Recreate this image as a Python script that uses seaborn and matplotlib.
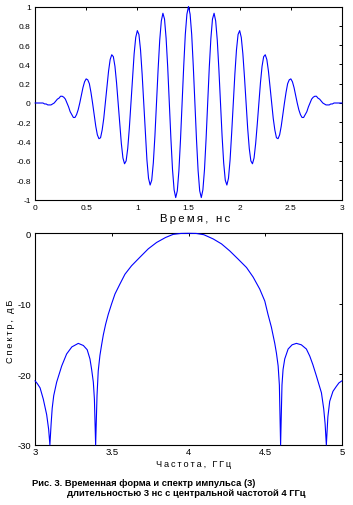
import numpy as np
import pandas as pd
import matplotlib
matplotlib.use("Agg")
import matplotlib.pyplot as plt
import seaborn as sns

# --- data --------------------------------------------------------------
# pulse waveform, sampled every 1/64 ns from 0 to 3 ns
time_ns = np.linspace(0, 3, 193)
pulse = [
    0.00, 0.00, 0.00, 0.00, 0.00, 0.00, -0.01, -0.01, -0.02, -0.02, -0.02, -0.01, 0.00, 0.02, 0.04, 0.05,
    0.07, 0.07, 0.06, 0.04, 0.00, -0.04, -0.09, -0.12, -0.15, -0.15, -0.12, -0.07, 0.00, 0.08, 0.16, 0.22,
    0.25, 0.24, 0.20, 0.11, 0.00, -0.12, -0.24, -0.33, -0.37, -0.36, -0.28, -0.16, 0.00, 0.17, 0.33, 0.45,
    0.50, 0.48, 0.38, 0.21, 0.00, -0.22, -0.42, -0.57, -0.63, -0.60, -0.47, -0.26, 0.00, 0.27, 0.51, 0.68,
    0.75, 0.71, 0.55, 0.30, 0.00, -0.31, -0.59, -0.78, -0.85, -0.80, -0.62, -0.34, 0.00, 0.35, 0.65, 0.85,
    0.93, 0.87, 0.67, 0.37, 0.00, -0.37, -0.69, -0.90, -0.98, -0.91, -0.70, -0.38, 0.00, 0.38, 0.71, 0.92,
    1.00,
    0.92, 0.71, 0.38, 0.00, -0.38, -0.70, -0.91, -0.98, -0.90, -0.69, -0.37, 0.00, 0.37, 0.67, 0.87, 0.93,
    0.85, 0.65, 0.35, 0.00, -0.34, -0.62, -0.80, -0.85, -0.78, -0.59, -0.31, 0.00, 0.30, 0.55, 0.71, 0.75,
    0.68, 0.51, 0.27, 0.00, -0.26, -0.47, -0.60, -0.63, -0.57, -0.42, -0.22, 0.00, 0.21, 0.38, 0.48, 0.50,
    0.45, 0.33, 0.17, 0.00, -0.16, -0.28, -0.36, -0.37, -0.33, -0.24, -0.12, 0.00, 0.11, 0.20, 0.24, 0.25,
    0.22, 0.16, 0.08, 0.00, -0.07, -0.12, -0.15, -0.15, -0.12, -0.09, -0.04, 0.00, 0.04, 0.06, 0.07, 0.07,
    0.05, 0.04, 0.02, 0.00, -0.01, -0.02, -0.02, -0.02, -0.01, -0.01, 0.00, 0.00, 0.00, 0.00, 0.00, 0.00,
]

# spectrum, dB (nulls are clipped at the -30 dB floor in the picture)
freq_ghz = [
    3.000, 3.015, 3.033, 3.054, 3.076, 3.089, 3.097, 3.105, 3.112, 3.122,
    3.141, 3.174, 3.206, 3.240, 3.282, 3.315, 3.340, 3.358, 3.369, 3.380,
    3.387, 3.395, 3.404, 3.412, 3.423, 3.434, 3.445, 3.460, 3.477, 3.499,
    3.521, 3.553, 3.586, 3.629, 3.683, 3.738, 3.792, 3.850, 3.900, 3.950,
    4.000, 4.050, 4.100, 4.161, 4.215, 4.269, 4.323, 4.378, 4.421, 4.464,
    4.497, 4.518, 4.540, 4.562, 4.573, 4.584, 4.592, 4.600, 4.609, 4.616,
    4.627, 4.649, 4.675, 4.703, 4.735, 4.768, 4.790, 4.810, 4.833, 4.866,
    4.881, 4.890, 4.898, 4.908, 4.920, 4.941, 4.963, 4.980, 5.000,
]
spectrum_db = [
    -20.9, -21.3, -21.9, -23.5, -25.7, -27.8, -30.0, -27.0, -24.8, -23.0,
    -21.1, -18.8, -17.1, -16.1, -15.6, -15.9, -16.5, -17.8, -19.3, -21.1,
    -23.5, -30.0, -23.0, -19.5, -17.3, -15.8, -14.4, -12.9, -11.5, -10.0,
    -8.6, -7.2, -5.8, -4.6, -3.4, -2.2, -1.3, -0.6, -0.15, -0.02,
    0.0, -0.02, -0.2, -0.8, -1.5, -2.5, -3.65, -4.85, -6.2, -7.9,
    -9.6, -11.5, -13.3, -15.6, -17.0, -18.8, -21.5, -30.0, -21.5, -19.3,
    -17.8, -16.4, -15.8, -15.6, -15.8, -16.4, -17.4, -18.6, -20.2, -22.6,
    -24.9, -27.0, -30.0, -26.0, -23.8, -22.4, -21.7, -21.2, -20.9,
]

time_ticks = [0, 0.5, 1, 1.5, 2, 2.5, 3]
time_labels = ["0", "0.5", "1", "1.5", "2", "2.5", "3"]
amp_ticks = [-1, -0.8, -0.6, -0.4, -0.2, 0, 0.2, 0.4, 0.6, 0.8, 1]
amp_labels = ["-1", "-0.8", "-0.6", "-0.4", "-0.2", "0", "0.2", "0.4", "0.6", "0.8", "1"]
freq_ticks = [3, 3.5, 4, 4.5, 5]
freq_labels = ["3", "3.5", "4", "4.5", "5"]
db_ticks = [-30, -20, -10, 0]
db_labels = ["-30", "-20", "-10", "0"]

caption_1 = "Рис. 3. Временная форма и спектр импульса (3)"
caption_2 = "длительностью 3 нс с центральной частотой 4 ГГц"


def spaced(s):
    # the old plot uses wide letter spacing in the axis titles
    return "\u2009".join(s)


sns.set_theme(style="white")
plt.rcParams["font.family"] = ["Liberation Sans", "DejaVu Sans"]
plt.rcParams["axes.unicode_minus"] = False

W, H = 353, 506
fig = plt.figure(figsize=(W / 100, H / 100), dpi=100)
ax1 = fig.add_axes([35 / W, 1 - 200.5 / H, 307 / W, 193 / H])
ax2 = fig.add_axes([35 / W, 1 - 446 / H, 307 / W, 211.7 / H])

df_t = pd.DataFrame({"t": time_ns, "u": pulse})
df_f = pd.DataFrame({"f": freq_ghz, "s": spectrum_db})

sns.lineplot(data=df_t, x="t", y="u", ax=ax1, color="#0000ff",
             linewidth=0.8, clip_on=False, zorder=5)
sns.lineplot(data=df_f, x="f", y="s", ax=ax2, color="#0000ff",
             linewidth=0.8, clip_on=False, zorder=5)

ax1.set_xlim(0, 3)
ax1.set_ylim(-1, 1)
ax1.set_xticks(time_ticks, labels=time_labels)
ax1.set_yticks(amp_ticks, labels=amp_labels)

ax2.set_xlim(3, 5)
ax2.set_ylim(-30, 0)
ax2.set_xticks(freq_ticks, labels=freq_labels)
ax2.set_yticks(db_ticks, labels=db_labels)

for ax, fs in ((ax1, 6), (ax2, 6.8)):
    ax.grid(False)
    for s in ax.spines.values():
        s.set_visible(True)
        s.set_color("black")
        s.set_linewidth(0.8)
    ax.tick_params(direction="in", length=2.5, width=0.7, colors="black",
                   top=True, right=True, labelsize=fs)
    ax.tick_params(axis="y", pad=3)
ax1.tick_params(axis="x", pad=3)
ax2.tick_params(axis="x", pad=1.2)

ax1.set_xlabel(spaced("Время, нс"), fontsize=8.2, color="black")
ax1.xaxis.set_label_coords(0.52, -0.07)
ax1.set_ylabel("")

ax2.set_xlabel(spaced("Частота, ГГц"), fontsize=6.6, color="black")
ax2.xaxis.set_label_coords(0.517, -0.064)
ax2.set_ylabel(spaced("Спектр, дБ"), fontsize=6.6, color="black")
ax2.yaxis.set_label_coords(-0.066, 0.54)

fig.text(31.7 / W, 1 - 483.5 / H, caption_1, fontsize=6.75, fontweight="bold",
         va="center", ha="left", color="black")
fig.text(66.7 / W, 1 - 493.5 / H, caption_2, fontsize=6.75, fontweight="bold",
         va="center", ha="left", color="black")

fig.savefig("out.png", dpi=100, facecolor="white")
